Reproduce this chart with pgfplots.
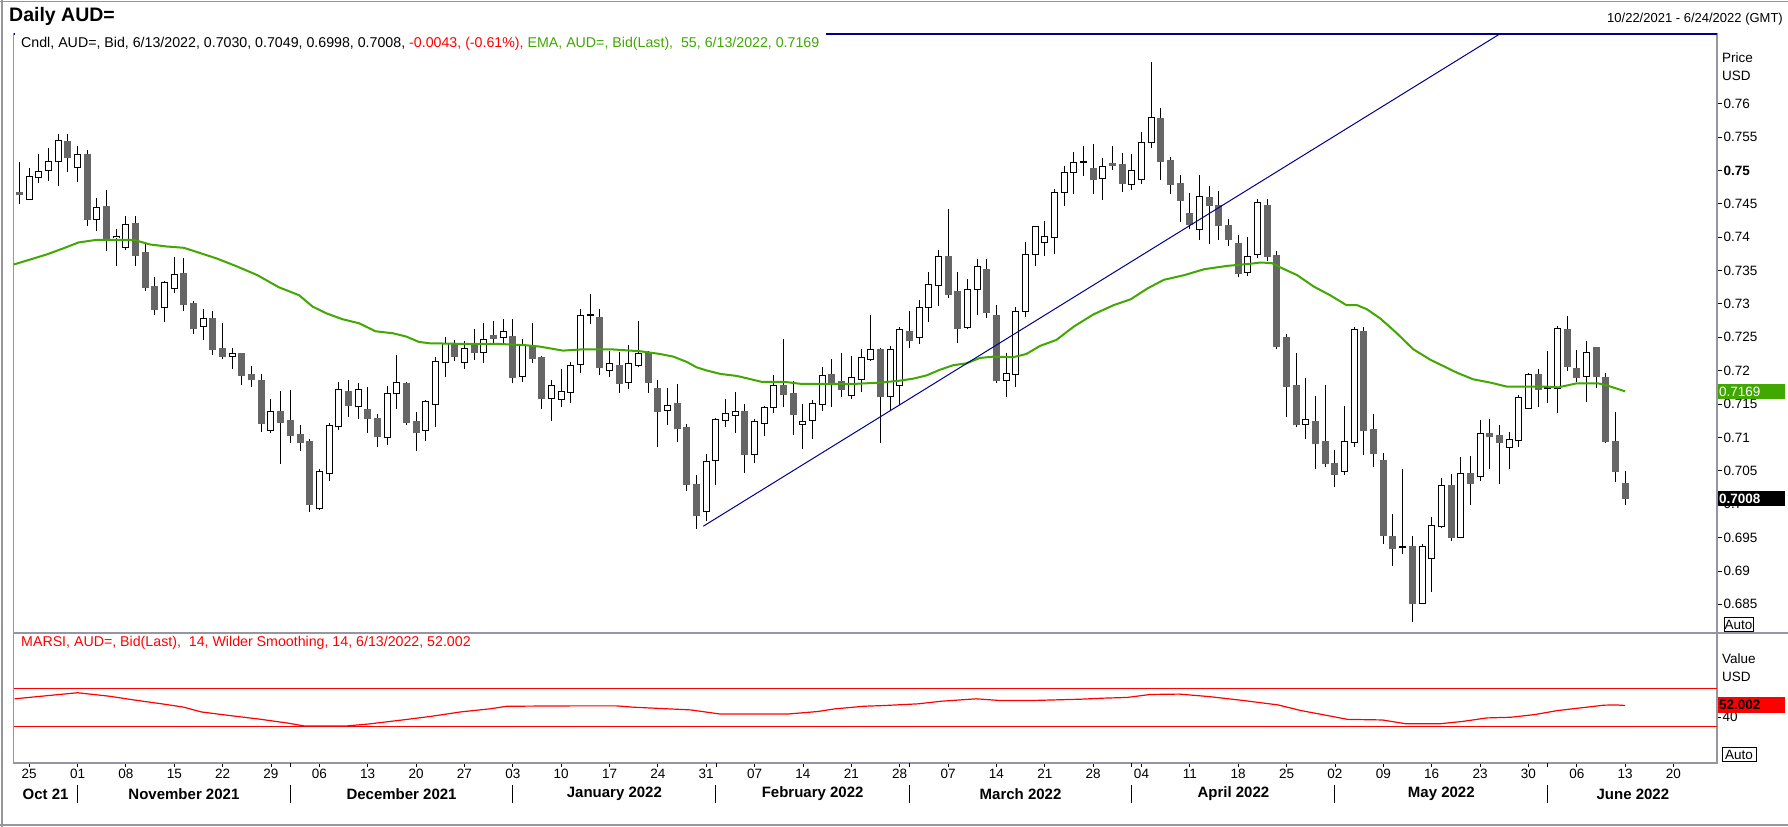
\documentclass[border=0pt]{standalone}
\usepackage{fontspec}
\setmainfont{Liberation Sans}
\usepackage{pgfplots}
\usepackage{pgfplotstable}
\pgfplotsset{compat=1.18}
\definecolor{framegray}{RGB}{150,150,162}
\definecolor{candlegray}{RGB}{102,102,102}
\definecolor{emagreen}{RGB}{64,168,0}
\definecolor{navyline}{RGB}{0,0,140}
\definecolor{rsired}{RGB}{255,0,0}

% up candles: i O H L C
\pgfplotstableread{
i O H L C
0 0.7456 0.7504 0.7455 0.7490
1 0.7489 0.7525 0.7481 0.7498
2 0.7500 0.7534 0.7484 0.7513
3 0.7513 0.7555 0.7477 0.7544
5 0.7504 0.7536 0.7483 0.7524
7 0.7427 0.7458 0.7409 0.7444
9 0.7399 0.7412 0.7357 0.7401
10 0.7385 0.7431 0.7381 0.7419
14 0.7295 0.7335 0.7273 0.7332
15 0.7324 0.7370 0.7316 0.7344
18 0.7267 0.7292 0.7246 0.7278
21 0.7222 0.7234 0.7202 0.7225
25 0.7111 0.7158 0.7106 0.7138
30 0.6993 0.7053 0.6991 0.7048
31 0.7046 0.7121 0.7035 0.7117
32 0.7116 0.7183 0.7111 0.7171
34 0.7146 0.7181 0.7128 0.7171
37 0.7100 0.7177 0.7089 0.7166
38 0.7166 0.7223 0.7142 0.7182
41 0.7111 0.7156 0.7095 0.7153
42 0.7150 0.7220 0.7116 0.7213
43 0.7213 0.7250 0.7191 0.7240
45 0.7213 0.7244 0.7203 0.7233
47 0.7227 0.7271 0.7211 0.7247
49 0.7250 0.7277 0.7241 0.7258
51 0.7192 0.7248 0.7183 0.7238
54 0.7159 0.7186 0.7125 0.7177
55 0.7157 0.7203 0.7146 0.7168
56 0.7168 0.7213 0.7152 0.7208
57 0.7210 0.7292 0.7197 0.7283
58 0.7283 0.7315 0.7270 0.7284
60 0.7201 0.7229 0.7191 0.7210
62 0.7183 0.7238 0.7173 0.7210
63 0.7208 0.7275 0.7205 0.7225
66 0.7141 0.7174 0.7118 0.7147
70 0.6989 0.7075 0.6975 0.7063
71 0.7066 0.7129 0.7029 0.7126
72 0.7126 0.7158 0.7115 0.7135
73 0.7133 0.7168 0.7106 0.7139
75 0.7075 0.7128 0.7061 0.7124
76 0.7121 0.7147 0.7102 0.7144
77 0.7145 0.7194 0.7137 0.7177
80 0.7120 0.7150 0.7082 0.7124
81 0.7126 0.7156 0.7098 0.7150
82 0.7150 0.7206 0.7140 0.7192
85 0.7163 0.7222 0.7158 0.7189
86 0.7187 0.7233 0.7168 0.7219
87 0.7217 0.7283 0.7215 0.7232
89 0.7161 0.7237 0.7139 0.7232
90 0.7178 0.7266 0.7148 0.7262
92 0.7250 0.7306 0.7240 0.7295
93 0.7295 0.7348 0.7273 0.7329
94 0.7328 0.7381 0.7297 0.7370
97 0.7265 0.7337 0.7262 0.7322
98 0.7322 0.7367 0.7284 0.7356
101 0.7185 0.7226 0.7161 0.7195
102 0.7195 0.7295 0.7176 0.7289
103 0.7289 0.7393 0.7280 0.7374
104 0.7374 0.7417 0.7357 0.7415
105 0.7392 0.7424 0.7371 0.7400
106 0.7400 0.7472 0.7374 0.7467
107 0.7467 0.7507 0.7447 0.7497
108 0.7497 0.7528 0.7464 0.7512
109 0.7512 0.7537 0.7492 0.7513
111 0.7488 0.7518 0.7455 0.7506
114 0.7479 0.7525 0.7470 0.7499
115 0.7487 0.7557 0.7480 0.7542
116 0.7542 0.7662 0.7533 0.7579
121 0.7412 0.7493 0.7396 0.7460
126 0.7347 0.7400 0.7342 0.7370
127 0.7374 0.7457 0.7368 0.7451
132 0.7120 0.7189 0.7098 0.7126
136 0.7049 0.7147 0.7043 0.7093
137 0.7093 0.7266 0.7085 0.7262
142 0.6935 0.7053 0.6925 0.6936
144 0.6852 0.6941 0.6850 0.6937
145 0.6919 0.6981 0.6869 0.6968
146 0.6967 0.7039 0.6964 0.7028
148 0.6951 0.7071 0.6949 0.7046
150 0.7042 0.7126 0.7034 0.7105
153 0.7085 0.7108 0.7053 0.7097
154 0.7095 0.7164 0.7086 0.7159
155 0.7144 0.7197 0.7144 0.7194
157 0.7174 0.7229 0.7152 0.7175
158 0.7174 0.7267 0.7137 0.7263
161 0.7191 0.7244 0.7153 0.7227
}\upc

% down candles: i O H L C
\pgfplotstableread{
i O H L C
-1 0.7466 0.7512 0.7450 0.7464
4 0.7543 0.7555 0.7498 0.7520
6 0.7523 0.7531 0.7417 0.7427
8 0.7446 0.7470 0.7379 0.7397
11 0.7420 0.7431 0.7357 0.7373
12 0.7376 0.7390 0.7320 0.7325
13 0.7326 0.7341 0.7283 0.7292
16 0.7345 0.7368 0.7289 0.7300
17 0.7301 0.7304 0.7255 0.7264
19 0.7278 0.7290 0.7223 0.7232
20 0.7233 0.7272 0.7217 0.7222
22 0.7226 0.7226 0.7178 0.7193
23 0.7194 0.7207 0.7175 0.7187
24 0.7185 0.7195 0.7108 0.7121
26 0.7138 0.7170 0.7060 0.7122
27 0.7125 0.7171 0.7092 0.7103
28 0.7104 0.7118 0.7080 0.7092
29 0.7093 0.7098 0.6989 0.6999
33 0.7168 0.7186 0.7131 0.7148
35 0.7141 0.7175 0.7107 0.7128
36 0.7128 0.7135 0.7086 0.7101
39 0.7181 0.7183 0.7119 0.7122
40 0.7123 0.7138 0.7079 0.7107
44 0.7240 0.7246 0.7215 0.7222
46 0.7238 0.7262 0.7216 0.7227
48 0.7253 0.7274 0.7241 0.7248
50 0.7251 0.7277 0.7181 0.7190
52 0.7238 0.7272 0.7212 0.7218
53 0.7219 0.7222 0.7142 0.7158
59 0.7280 0.7292 0.7194 0.7205
61 0.7208 0.7228 0.7167 0.7181
64 0.7227 0.7230 0.7167 0.7182
65 0.7173 0.7186 0.7086 0.7139
67 0.7150 0.7180 0.7093 0.7113
68 0.7114 0.7120 0.7020 0.7029
69 0.7029 0.7043 0.6963 0.6984
74 0.7139 0.7150 0.7047 0.7075
78 0.7177 0.7247 0.7145 0.7164
79 0.7165 0.7184 0.7104 0.7134
83 0.7194 0.7218 0.7146 0.7182
84 0.7184 0.7227 0.7161 0.7172
88 0.7232 0.7234 0.7092 0.7161
91 0.7259 0.7289 0.7234 0.7246
95 0.7370 0.7442 0.7309 0.7315
96 0.7318 0.7348 0.7242 0.7264
99 0.7352 0.7367 0.7279 0.7288
100 0.7283 0.7298 0.7182 0.7185
110 0.7502 0.7540 0.7465 0.7486
112 0.7510 0.7537 0.7500 0.7508
113 0.7508 0.7526 0.7468 0.7481
117 0.7578 0.7593 0.7485 0.7513
118 0.7514 0.7520 0.7465 0.7479
119 0.7480 0.7493 0.7423 0.7455
120 0.7435 0.7466 0.7412 0.7419
122 0.7459 0.7476 0.7389 0.7447
123 0.7447 0.7469 0.7395 0.7417
124 0.7417 0.7427 0.7387 0.7396
125 0.7390 0.7403 0.7341 0.7346
128 0.7447 0.7457 0.7364 0.7371
129 0.7372 0.7379 0.7232 0.7237
130 0.7249 0.7255 0.7131 0.7176
131 0.7177 0.7227 0.7116 0.7119
133 0.7123 0.7162 0.7052 0.7091
134 0.7093 0.7178 0.7055 0.7061
135 0.7060 0.7081 0.7026 0.7044
138 0.7259 0.7266 0.7073 0.7110
139 0.7111 0.7135 0.7055 0.7076
140 0.7065 0.7076 0.6941 0.6953
141 0.6952 0.6985 0.6907 0.6934
143 0.6936 0.6952 0.6824 0.6851
147 0.7027 0.7045 0.6945 0.6951
149 0.7046 0.7072 0.6999 0.7031
151 0.7105 0.7127 0.7053 0.7101
152 0.7102 0.7118 0.7030 0.7093
156 0.7194 0.7202 0.7146 0.7172
159 0.7262 0.7282 0.7199 0.7206
160 0.7203 0.7231 0.7183 0.7190
162 0.7235 0.7235 0.7174 0.7191
163 0.7190 0.7197 0.7092 0.7094
164 0.7094 0.7138 0.7033 0.7049
165 0.7030 0.7049 0.6998 0.7008
}\dnc

\newcommand{\txt}{\fontsize{13.5bp}{16bp}\selectfont}
\newcommand{\htxt}{\fontsize{14.2bp}{16bp}\selectfont}
\newcommand{\mfont}{\fontsize{15bp}{18bp}\selectfont\bfseries}
\pgfplotsset{candle/.style={draw=none, mark=none, forget plot,
  error bars/.cd, y dir=plus, y explicit, error mark=none}}

\begin{document}
\begin{tikzpicture}
\useasboundingbox (0,0) rectangle (1788bp,827bp);
\fill[white] (0,0) rectangle (1788bp,827bp);

% ---------------- main price panel ----------------
\begin{axis}[
  at={(13.7bp,194bp)}, anchor=south west, scale only axis,
  width=1703.3bp, height=599bp,
  xmin=-1.6, xmax=174.5, ymin=0.6807, ymax=0.77043,
  axis line style={draw=framegray, line width=1.2bp},
  xtick=\empty,
  ytick={0.685,0.69,0.695,0.7,0.705,0.71,0.715,0.72,0.725,0.73,0.735,0.74,0.745,0.75,0.755,0.76},
  yticklabels={0.685,0.69,0.695,0.7,0.705,0.71,0.715,0.72,0.725,0.73,0.735,0.74,0.745,{\bfseries 0.75},0.755,0.76},
  ytick pos=right, yticklabel pos=right,
  tick align=outside, major tick length=5bp,
  tick style={black, line width=0.8bp},
  yticklabel style={font=\txt, inner sep=1.5bp},
  clip=true,
]
% wicks
\addplot[candle, error bar style={draw=black, line width=1bp}]
  table[x=i, y=L, y error plus expr=\thisrow{H}-\thisrow{L}] {\dnc};
\addplot[candle, error bar style={draw=black, line width=1bp}]
  table[x=i, y=L, y error plus expr=\thisrow{H}-\thisrow{L}] {\upc};
% down bodies
\addplot[candle, error bar style={draw=candlegray, line width=7bp}]
  table[x=i, y expr=\thisrow{C}-0.0001, y error plus expr=\thisrow{O}-\thisrow{C}+0.0002] {\dnc};
% up bodies: black outline then white inside
\addplot[candle, error bar style={draw=black, line width=7bp}]
  table[x=i, y expr=\thisrow{O}-0.0001, y error plus expr=\thisrow{C}-\thisrow{O}+0.0002] {\upc};
\addplot[candle, error bar style={draw=white, line width=5bp}]
  table[x=i, y expr=\thisrow{O}+0.00005, y error plus expr={max(\thisrow{C}-\thisrow{O}-0.0001,0)}] {\upc};
% EMA 55
\addplot[emagreen, line width=2bp, mark=none] coordinates {
(-1.6,0.7359) (0,0.7366) (1.8,0.7374) (3.5,0.7383) (5.1,0.7392) (7,0.7396)
(10.8,0.7396) (12.5,0.7389) (14.2,0.7386) (16,0.7384) (17.7,0.7376) (19.4,0.7368)
(21.5,0.7356) (23.6,0.7343) (25.8,0.7325) (27.9,0.7313) (29.3,0.7296) (30.7,0.7286)
(32.4,0.7277) (34.1,0.7271) (35.8,0.7259) (37.6,0.7256) (39,0.7251) (40.3,0.7243)
(41.4,0.7241) (45.2,0.7240) (48.6,0.7240) (51.4,0.7238) (52.8,0.7236) (55.2,0.7230)
(57.3,0.7232) (60.1,0.7232) (63.2,0.7229) (65.2,0.7225) (66.6,0.7221) (68,0.7213)
(69,0.7205) (70.1,0.7200) (71.5,0.7195) (73.2,0.7192) (75.8,0.7183) (78.2,0.7183)
(79.9,0.7180) (85.1,0.7180) (87.9,0.7182) (90,0.7185) (91.4,0.7188) (92.8,0.7193)
(94.1,0.7201) (95.5,0.7208) (96.9,0.7211) (98.3,0.7219) (99.7,0.7221) (101.7,0.7220)
(103.1,0.7225) (104.5,0.7237) (106.2,0.7246) (108,0.7266) (110,0.7284) (112.1,0.7298)
(113.9,0.7307) (115.6,0.7323) (117.3,0.7336) (119.4,0.7343) (121.5,0.7352) (123.9,0.7357)
(126.2,0.7360) (127.3,0.7362) (128.5,0.7361) (129.3,0.7355) (131.1,0.7343) (132.8,0.7326)
(134.5,0.7313) (136.2,0.7298) (137.3,0.7298) (138.3,0.7292) (139.7,0.7278) (141.4,0.7256)
(143.1,0.7232) (144.9,0.7216) (146.2,0.7207) (147.6,0.7197) (149.3,0.7187) (151.1,0.7182)
(152.8,0.7176) (156.9,0.7176) (158.1,0.7175) (160,0.7181) (162.2,0.7181) (163.1,0.7178)
(165,0.7169)
};
% trend line
\addplot[navyline, line width=1bp, mark=none] coordinates {(69.7,0.6967) (152.0,0.7704)};
\end{axis}

% ---------------- RSI panel ----------------
\begin{axis}[
  at={(13.7bp,64bp)}, anchor=south west, scale only axis,
  width=1703.3bp, height=130bp,
  xmin=-1.6, xmax=174.5, ymin=-7.6, ymax=127.1,
  axis line style={draw=framegray, line width=1.2bp},
  xtick={0,5,...,170},
  xticklabels={25,01,08,15,22,29,06,13,20,27,03,10,17,24,31,07,14,21,28,07,14,21,28,04,11,18,25,02,09,16,23,30,06,13,20},
  extra x ticks={27,71,91,114,157}, extra x tick labels={},
  xtick pos=bottom,
  ytick={40}, yticklabels={40},
  ytick pos=right, yticklabel pos=right,
  tick align=outside, major tick length=4bp,
  tick style={black, line width=0.8bp},
  xticklabel style={font=\txt, inner sep=2bp},
  yticklabel style={font=\txt, inner sep=1.5bp},
  clip=false,
]
\addplot[rsired, line width=1.2bp, mark=none] coordinates {(-1.6,70) (174.5,70)};
\addplot[rsired, line width=1.2bp, mark=none] coordinates {(-1.6,30) (174.5,30)};
\addplot[rsired, line width=1.2bp, mark=none] coordinates {
(-1.5,58.9) (1.7,62.0) (5.0,65.2) (8.2,61.7) (11.2,57.2) (14.2,53.0) (16.0,50.2)
(17.8,45.3) (20.8,41.5) (23.7,38.0) (26.7,33.8) (28.5,30.7) (32.7,30.7) (35.1,32.8)
(38.6,37.0) (41.6,40.8) (44.6,45.3) (47.6,48.5) (49.4,51.2) (56.5,51.6) (60.7,51.6)
(62.5,50.2) (68.4,47.4) (71.4,43.2) (78.5,43.2) (81.5,45.7) (83.3,48.5) (86.3,51.2)
(88.3,51.9) (91.9,53.7) (94.3,56.4) (97.9,58.9) (100.3,57.2) (103.9,57.2) (108.7,58.5)
(111.1,59.6) (113.5,60.3) (115.9,63.4) (118.9,63.8) (121.9,61.3) (125.5,57.2) (129.1,52.6)
(131.5,46.7) (133.9,42.2) (136.3,37.6) (139.9,37.0) (142.3,33.1) (145.9,33.1) (148.3,35.6)
(150.7,39.1) (153.2,39.8) (155.6,42.5) (158.0,46.7) (160.4,49.5) (162.8,52.3) (164.0,52.6)
(165,52.0)
};
% month separators
\pgfplotsinvokeforeach{5,27,50,71,91,114,135,157}{
  \draw[black, line width=1bp] ([yshift=-22bp]axis cs:#1,-7.6) -- ([yshift=-40bp]axis cs:#1,-7.6);
}
% month names
\node[font=\mfont, inner sep=0pt] at ([yshift=-31bp]axis cs:1.7,-7.6) {Oct 21};
\node[font=\mfont, inner sep=0pt] at ([yshift=-31bp]axis cs:16,-7.6) {November 2021};
\node[font=\mfont, inner sep=0pt] at ([yshift=-31bp]axis cs:38.5,-7.6) {December 2021};
\node[font=\mfont, inner sep=0pt] at ([yshift=-31bp]axis cs:60.5,-7.6) {January 2022};
\node[font=\mfont, inner sep=0pt] at ([yshift=-31bp]axis cs:81,-7.6) {February 2022};
\node[font=\mfont, inner sep=0pt] at ([yshift=-31bp]axis cs:102.5,-7.6) {March 2022};
\node[font=\mfont, inner sep=0pt] at ([yshift=-31bp]axis cs:124.5,-7.6) {April 2022};
\node[font=\mfont, inner sep=0pt] at ([yshift=-31bp]axis cs:146,-7.6) {May 2022};
\node[font=\mfont, inner sep=0pt] at ([yshift=-31bp]axis cs:165.8,-7.6) {June 2022};
\end{axis}

% ---------------- frames and decorations ----------------
\draw[framegray, line width=1.2bp] (0,825.5bp) -- (1788bp,825.5bp);
\draw[framegray, line width=1.2bp] (2bp,0) -- (2bp,827bp);
\draw[framegray, line width=1.2bp] (0,2bp) -- (1788bp,2bp);
\draw[framegray, line width=1.2bp] (13.7bp,194bp) -- (1788bp,194bp);
\draw[navyline, line width=1.2bp] (13.7bp,793bp) -- (1717bp,793bp);

% header texts
\node[anchor=west, font=\fontsize{19.5bp}{22bp}\selectfont\bfseries, inner sep=0pt] at (9bp,811bp) {Daily AUD=};
\node[anchor=east, font=\fontsize{13bp}{15bp}\selectfont, inner sep=0pt] at (1783bp,808bp) {10/22/2021 - 6/24/2022 (GMT)};
\fill[white] (15bp,775bp) rectangle (826bp,794bp);
\node[anchor=west, font=\htxt, inner sep=0pt] at (21bp,783.5bp) {Cndl, AUD=, Bid, 6/13/2022, 0.7030, 0.7049, 0.6998, 0.7008, \textcolor{rsired}{-0.0043, (-0.61\%),} \textcolor{emagreen}{EMA, AUD=, Bid(Last),\ \ 55, 6/13/2022, 0.7169}};

% right side labels (price)
\node[anchor=west, font=\txt, inner sep=0pt] at (1722bp,769bp) {Price};
\node[anchor=west, font=\txt, inner sep=0pt] at (1722bp,751bp) {USD};
\fill[emagreen] (1717.5bp,428bp) rectangle (1785bp,443bp);
\node[anchor=west, font=\txt, text=white, inner sep=0pt] at (1719bp,435.5bp) {0.7169};
\fill[black] (1717.5bp,321bp) rectangle (1785bp,336bp);
\node[anchor=west, font=\txt\bfseries, text=white, inner sep=0pt] at (1719bp,328.5bp) {0.7008};
\draw[black, fill=white, line width=0.8bp] (1724bp,195.5bp) rectangle (1753bp,209.5bp);
\node[font=\txt, inner sep=0pt] at (1738.5bp,202bp) {Auto};

% RSI texts
\node[anchor=west, font=\htxt, text=rsired, inner sep=0pt] at (21bp,184bp) {MARSI, AUD=, Bid(Last),\ \ 14, Wilder Smoothing, 14, 6/13/2022, 52.002};
\node[anchor=west, font=\txt, inner sep=0pt] at (1722bp,168bp) {Value};
\node[anchor=west, font=\txt, inner sep=0pt] at (1722bp,150bp) {USD};
\fill[rsired] (1718bp,114bp) rectangle (1785bp,130bp);
\node[anchor=west, font=\txt\bfseries, inner sep=0pt] at (1719bp,122bp) {52.002};
\draw[black, fill=white, line width=0.8bp] (1722bp,65.5bp) rectangle (1756bp,79.5bp);
\node[font=\txt, inner sep=0pt] at (1739bp,72.5bp) {Auto};
\end{tikzpicture}
\end{document}
